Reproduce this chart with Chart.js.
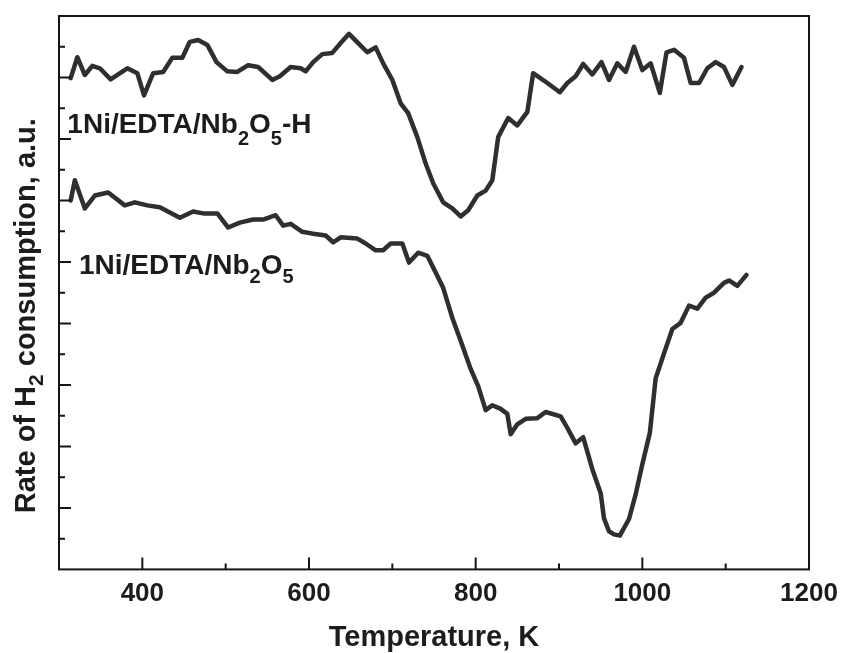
<!DOCTYPE html>
<html>
<head>
<meta charset="utf-8">
<script src="https://cdn.jsdelivr.net/npm/chart.js@4.4.0/dist/chart.umd.min.js"></script>
<style>
  html, body { margin: 0; padding: 0; background: #fff; }
</style>
</head>
<body>
<canvas id="tprChart" width="843" height="653"></canvas>
<script>
const FONT = '"Liberation Sans", Arial, sans-serif';
const TEXT = '#1c1c1c';
const LINE = '#2f2f2f';

// 1Ni/EDTA/Nb2O5-H (upper curve)
const tempH = [314, 322, 331, 340, 349, 362, 371, 382, 394, 402, 413, 425, 436, 448, 457,
  467, 478, 489, 502, 514, 527, 539, 556, 565, 578, 590, 596, 605, 616, 628,
  638, 648, 659, 670, 680, 689, 700, 710, 719, 730, 740, 749, 761, 772, 782,
  791, 802, 812, 820, 827, 839, 850, 862, 869, 886, 901, 910, 920, 929, 940,
  951, 960, 970, 980, 990, 1000, 1010, 1021, 1029, 1038, 1050, 1058, 1068, 1078, 1088,
  1098, 1108, 1119];
const rateH = [7.99, 8.33, 8.04, 8.19, 8.15, 7.97, 8.05, 8.15, 8.07, 7.71, 8.07, 8.09, 8.32, 8.32, 8.58,
  8.61, 8.53, 8.25, 8.10, 8.09, 8.20, 8.17, 7.96, 8.02, 8.17, 8.15, 8.10, 8.25, 8.38, 8.40,
  8.56, 8.71, 8.56, 8.41, 8.49, 8.23, 7.96, 7.58, 7.42, 7.03, 6.60, 6.28, 5.97, 5.87, 5.74,
  5.84, 6.08, 6.16, 6.33, 7.03, 7.34, 7.22, 7.44, 8.07, 7.91, 7.76, 7.91, 8.02, 8.22, 8.05,
  8.25, 7.96, 8.23, 8.09, 8.50, 8.12, 8.23, 7.75, 8.41, 8.45, 8.32, 7.91, 7.91, 8.15, 8.25,
  8.17, 7.88, 8.17];

// 1Ni/EDTA/Nb2O5 (lower curve)
const tempRaw = [314, 319, 331, 343, 359, 379, 391, 406, 421, 445, 461, 473, 490, 503, 517,
  533, 545, 560, 569, 578, 592, 605, 620, 629, 638, 658, 668, 680, 689, 698,
  712, 720, 731, 742, 749, 761, 772, 782, 794, 803, 812, 820, 830, 838, 842,
  850, 860, 874, 884, 902, 910, 920, 929, 940, 950, 954, 960, 966, 973, 984,
  992, 1000, 1009, 1016, 1026, 1036, 1046, 1056, 1066, 1076, 1086, 1098, 1104, 1114, 1125];
const rateRaw = [6.00, 6.33, 5.87, 6.08, 6.13, 5.92, 5.97, 5.92, 5.89, 5.72, 5.82, 5.79, 5.79, 5.56, 5.64,
  5.69, 5.69, 5.76, 5.59, 5.62, 5.49, 5.46, 5.43, 5.32, 5.40, 5.38, 5.30, 5.19, 5.19, 5.30,
  5.30, 4.99, 5.15, 5.10, 4.91, 4.58, 4.09, 3.72, 3.26, 2.98, 2.59, 2.67, 2.61, 2.53, 2.20,
  2.36, 2.45, 2.46, 2.56, 2.49, 2.30, 2.05, 2.15, 1.63, 1.24, 0.83, 0.62, 0.57, 0.55, 0.82,
  1.22, 1.71, 2.22, 3.11, 3.51, 3.91, 4.01, 4.29, 4.24, 4.42, 4.50, 4.66, 4.70, 4.61, 4.79];

const xTicks = [400, 600, 800, 1000, 1200];
const xMinorTicks = [500, 700, 900, 1100];
const yMajorTicks = [1, 2, 3, 4, 5, 6, 7, 8];
const yMinorTicks = [0.5, 1.5, 2.5, 3.5, 4.5, 5.5, 6.5, 7.5, 8.5];

// text pieces: [text, isSubscript]
const labelH = [['1Ni/EDTA/Nb', false], ['2', true], ['O', false], ['5', true], ['-H', false]];
const labelRaw = [['1Ni/EDTA/Nb', false], ['2', true], ['O', false], ['5', true]];
const yTitle = [['Rate of H', false], ['2', true], [' consumption, a.u.', false]];
const labelHAt = [310, 7.09];
const labelRawAt = [324, 4.81];

function toPoints(xs, ys) {
  return xs.map((x, i) => ({ x: x, y: ys[i] }));
}

function richWidth(ctx, parts, size, subSize) {
  let w = 0;
  for (const [t, sub] of parts) {
    ctx.font = 'bold ' + (sub ? subSize : size) + 'px ' + FONT;
    w += ctx.measureText(t).width;
  }
  return w;
}

function drawRich(ctx, parts, x, y, size, subSize, subDrop) {
  let cx = x;
  for (const [t, sub] of parts) {
    ctx.font = 'bold ' + (sub ? subSize : size) + 'px ' + FONT;
    ctx.fillText(t, cx, sub ? y + subDrop : y);
    cx += ctx.measureText(t).width;
  }
}

const framePlugin = {
  id: 'frame',
  afterDraw(chart) {
    const { ctx, chartArea: a, scales: { x, y } } = chart;
    ctx.save();
    ctx.strokeStyle = '#151515';
    ctx.lineWidth = 2;
    ctx.strokeRect(a.left, a.top, a.right - a.left, a.bottom - a.top);

    ctx.beginPath();
    xTicks.forEach(v => {
      const px = x.getPixelForValue(v);
      ctx.moveTo(px, a.bottom); ctx.lineTo(px, a.bottom - 12);
    });
    xMinorTicks.forEach(v => {
      const px = x.getPixelForValue(v);
      ctx.moveTo(px, a.bottom); ctx.lineTo(px, a.bottom - 6);
    });
    yMajorTicks.forEach(v => {
      const py = y.getPixelForValue(v);
      ctx.moveTo(a.left, py); ctx.lineTo(a.left + 12, py);
    });
    yMinorTicks.forEach(v => {
      const py = y.getPixelForValue(v);
      ctx.moveTo(a.left, py); ctx.lineTo(a.left + 6, py);
    });
    ctx.stroke();

    ctx.fillStyle = TEXT;
    ctx.textAlign = 'left';
    ctx.textBaseline = 'alphabetic';
    drawRich(ctx, labelH, x.getPixelForValue(labelHAt[0]), y.getPixelForValue(labelHAt[1]), 28, 20, 12);
    drawRich(ctx, labelRaw, x.getPixelForValue(labelRawAt[0]), y.getPixelForValue(labelRawAt[1]), 28, 20, 9);

    // y axis title, rotated
    const w = richWidth(ctx, yTitle, 29, 21);
    ctx.translate(35, (a.top + a.bottom) / 2 + 23);
    ctx.rotate(-Math.PI / 2);
    drawRich(ctx, yTitle, -w / 2, 0, 29, 21, 8);
    ctx.restore();
  }
};

const ctx = document.getElementById('tprChart').getContext('2d');

const chart = new Chart(ctx, {
  type: 'line',
  data: {
    datasets: [{
      label: '1Ni/EDTA/Nb2O5-H',
      data: toPoints(tempH, rateH),
      borderColor: LINE,
      borderWidth: 4.5,
      borderJoinStyle: 'round',
      borderCapStyle: 'round',
      pointRadius: 0,
      tension: 0,
      fill: false
    }, {
      label: '1Ni/EDTA/Nb2O5',
      data: toPoints(tempRaw, rateRaw),
      borderColor: LINE,
      borderWidth: 4.5,
      borderJoinStyle: 'round',
      borderCapStyle: 'round',
      pointRadius: 0,
      tension: 0,
      fill: false
    }]
  },
  options: {
    responsive: false,
    animation: false,
    devicePixelRatio: 1,
    layout: { padding: { left: 59, right: 34, top: 16, bottom: 0 } },
    plugins: {
      legend: { display: false },
      tooltip: { enabled: false }
    },
    scales: {
      x: {
        type: 'linear',
        min: 300,
        max: 1200,
        grid: { display: false, drawTicks: false },
        border: { display: false },
        afterBuildTicks: function (scale) {
          scale.ticks = xTicks.map(v => ({ value: v }));
        },
        ticks: {
          color: TEXT,
          padding: 4,
          maxRotation: 0,
          callback: v => String(v),
          font: { family: FONT, size: 26, weight: 'bold', lineHeight: 1.6 }
        },
        title: {
          display: true,
          text: 'Temperature, K',
          color: TEXT,
          padding: { top: 4, bottom: 1 },
          font: { family: FONT, size: 29, weight: 'bold', lineHeight: 1 }
        }
      },
      y: {
        type: 'linear',
        min: 0,
        max: 9,
        display: false
      }
    }
  },
  plugins: [framePlugin]
});
</script>
</body>
</html>
